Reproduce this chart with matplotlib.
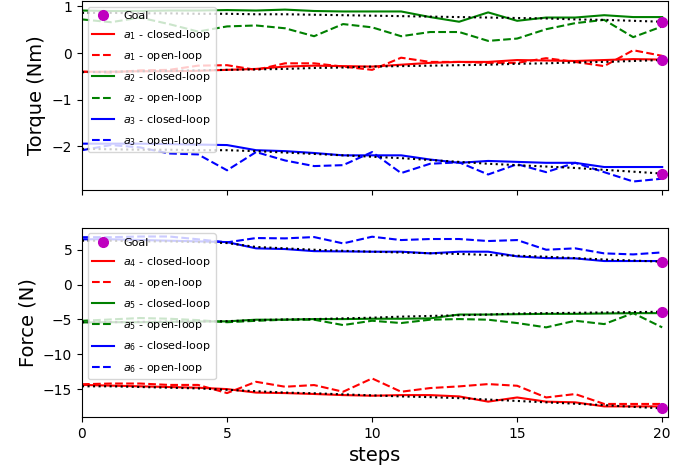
import matplotlib
matplotlib.use("Agg")
import matplotlib.pyplot as plt
import numpy as np

steps = np.arange(21)

# torque joints (a1..a3): closed-loop, open-loop, reference
a1_closed = [-0.40, -0.40, -0.39, -0.39, -0.38, -0.36, -0.34, -0.29, -0.27, -0.28, -0.29,
             -0.25, -0.21, -0.19, -0.19, -0.15, -0.16, -0.17, -0.15, -0.13, -0.14]
a1_open = [-0.40, -0.42, -0.37, -0.36, -0.27, -0.26, -0.36, -0.22, -0.22, -0.29, -0.36,
           -0.10, -0.19, -0.19, -0.21, -0.21, -0.11, -0.19, -0.28, 0.06, -0.06]
a1_ref = [-0.41, -0.40, -0.39, -0.38, -0.37, -0.36, -0.35, -0.34, -0.32, -0.31, -0.29,
          -0.28, -0.27, -0.26, -0.25, -0.23, -0.22, -0.20, -0.19, -0.17, -0.15]
a2_closed = [0.91, 0.90, 0.90, 0.91, 0.91, 0.92, 0.91, 0.93, 0.90, 0.89, 0.89,
             0.89, 0.77, 0.67, 0.87, 0.69, 0.76, 0.76, 0.81, 0.77, 0.77]
a2_open = [0.72, 0.66, 0.76, 0.62, 0.46, 0.57, 0.59, 0.53, 0.36, 0.62, 0.55,
           0.36, 0.45, 0.45, 0.26, 0.31, 0.51, 0.64, 0.71, 0.34, 0.57]
a2_ref = [0.86, 0.86, 0.85, 0.85, 0.84, 0.84, 0.83, 0.83, 0.82, 0.81, 0.80,
          0.79, 0.78, 0.77, 0.76, 0.75, 0.74, 0.72, 0.71, 0.69, 0.67]
a3_closed = [-1.94, -1.94, -1.94, -1.95, -1.96, -1.97, -2.08, -2.10, -2.14, -2.19, -2.19,
             -2.19, -2.28, -2.35, -2.31, -2.33, -2.35, -2.35, -2.44, -2.44, -2.44]
a3_open = [-2.08, -1.97, -2.02, -2.15, -2.17, -2.51, -2.12, -2.30, -2.42, -2.40, -2.12,
           -2.57, -2.37, -2.34, -2.60, -2.38, -2.55, -2.35, -2.55, -2.75, -2.69]
a3_ref = [-2.05, -2.06, -2.07, -2.07, -2.08, -2.08, -2.10, -2.13, -2.16, -2.19, -2.22,
          -2.25, -2.29, -2.33, -2.37, -2.40, -2.43, -2.46, -2.50, -2.54, -2.58]
goal_torque = [-0.15, 0.665, -2.58]

# force joints (a4..a6)
a4_closed = [-14.4, -14.5, -14.6, -14.7, -14.8, -15.0, -15.5, -15.57, -15.7, -15.86, -15.95,
             -15.86, -15.86, -16.05, -16.8, -16.2, -16.8, -16.9, -17.48, -17.48, -17.48]
a4_open = [-14.3, -14.2, -14.2, -14.4, -14.4, -15.57, -13.95, -14.66, -14.42, -15.38, -13.47,
           -15.38, -14.85, -14.61, -14.28, -14.52, -16.2, -15.71, -17.13, -17.13, -17.13]
a4_ref = [-14.6, -14.6, -14.7, -14.8, -14.9, -15.1, -15.3, -15.5, -15.6, -15.75, -15.9,
          -16.05, -16.15, -16.3, -16.5, -16.7, -16.9, -17.1, -17.3, -17.55, -17.77]
a5_closed = [-5.43, -5.4, -5.4, -5.35, -5.3, -5.28, -5.04, -5.04, -4.95, -4.95, -4.9,
             -4.9, -4.85, -4.3, -4.3, -4.25, -4.2, -4.2, -4.15, -4.1, -4.1]
a5_open = [-5.2, -5.0, -4.8, -4.9, -5.1, -5.4, -5.2, -5.04, -5.04, -5.81, -5.19,
           -5.52, -5.04, -4.95, -5.04, -5.52, -6.14, -5.19, -5.67, -4.1, -6.14]
a5_ref = [-5.4, -5.4, -5.35, -5.3, -5.3, -5.25, -5.1, -5.0, -4.95, -4.85, -4.75,
          -4.6, -4.5, -4.4, -4.3, -4.15, -4.1, -4.05, -4.0, -3.95, -3.9]
a6_closed = [6.5, 6.5, 6.4, 6.3, 6.2, 6.1, 5.2, 5.1, 4.8, 4.76, 4.72,
             4.72, 4.48, 4.72, 4.72, 4.05, 3.8, 3.76, 3.38, 3.38, 3.38]
a6_open = [6.8, 6.8, 6.9, 6.9, 6.5, 6.06, 6.68, 6.63, 6.82, 5.91, 6.87,
           6.39, 6.54, 6.54, 6.25, 6.39, 5.0, 5.2, 4.48, 4.33, 4.62]
a6_ref = [6.3, 6.3, 6.2, 6.2, 6.1, 5.96, 5.4, 5.2, 5.0, 4.85, 4.72,
          4.6, 4.5, 4.4, 4.25, 4.14, 4.0, 3.8, 3.6, 3.45, 3.28]
goal_force = [-17.77, -3.9, 3.28]

colors = ['r', 'g', 'b']

fig, (ax1, ax2) = plt.subplots(2, 1, sharex=True, figsize=(6.97, 4.74), dpi=100)
fig.subplots_adjust(left=82 / 697, right=668 / 697, top=1 - 1 / 474, bottom=1 - 417 / 474, hspace=0.2)

def draw(ax, names, closed, opened, refs, goals):
    ax.plot(np.full(len(goals), steps[-1]), goals, 'mo', markersize=7, label='Goal', zorder=5)
    for name, c, cl, op, rf in zip(names, colors, closed, opened, refs):
        ax.plot(steps, cl, c + '-', label=r'$a_%s$ - closed-loop' % name)
        ax.plot(steps, op, c + '--', label=r'$a_%s$ - open-loop' % name)
        ax.plot(steps, rf, 'k:')
    ax.legend(loc='upper left', fontsize=8, labelspacing=0.64)

draw(ax1, ['1', '2', '3'], [a1_closed, a2_closed, a3_closed], [a1_open, a2_open, a3_open],
     [a1_ref, a2_ref, a3_ref], goal_torque)
draw(ax2, ['4', '5', '6'], [a4_closed, a5_closed, a6_closed], [a4_open, a5_open, a6_open],
     [a4_ref, a5_ref, a6_ref], goal_force)

ax1.set_ylabel('Torque (Nm)', fontsize=14)
ax2.set_ylabel('Force (N)', fontsize=14)
ax2.set_xlabel('steps', fontsize=14)
ax2.set_xlim(0, 20.2)
ax2.set_xticks([0, 5, 10, 15, 20])

fig.savefig('out.png')
